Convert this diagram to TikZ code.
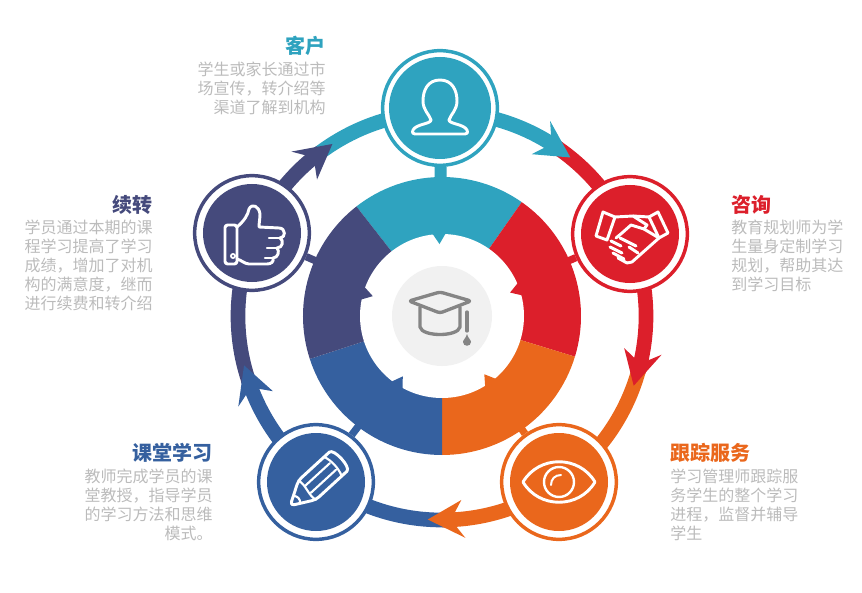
\documentclass[tikz,border=0pt]{standalone}
\usepackage{fontspec}
\setmainfont{Noto Sans CJK SC}
\definecolor{clientcol}{HTML}{2FA3BF}
\definecolor{consultcol}{HTML}{DC1F2B}
\definecolor{trackcol}{HTML}{EA671C}
\definecolor{lessoncol}{HTML}{35609F}
\definecolor{renewcol}{HTML}{454A7C}
\definecolor{bodycol}{HTML}{BBBBBB}
\definecolor{capcol}{HTML}{858585}
\definecolor{capback}{HTML}{F1F1F1}
\def\ringrad{204}
\def\hubrad{139}
\def\corerad{82}
\newcommand\ringhead[2]{%
  \fill[#1] (#2:\ringrad) -- (#2+10:\ringrad+19) -- (#2+6.5:\ringrad)%
    -- (#2+10:\ringrad-19) -- cycle;%
}
\tikzset{
  badge/.style={circle,draw=#1,line width=2.6pt,fill=white,minimum size=86pt,inner sep=0pt},
  icon/.style={draw=white,line width=2.2pt,line join=round,line cap=round},
  capicon/.style={draw=capcol,line width=2.5pt,line join=round,line cap=round},
  steptitle/.style={text=#1,font=\fontsize{15}{18}\selectfont\bfseries,inner sep=0pt},
  stepbody/.style={text=bodycol,font=\fontsize{12}{14.25}\selectfont,inner sep=0pt},
}

\begin{document}
\begin{tikzpicture}[x=.75pt,y=.75pt]%
  \useasboundingbox (-442,-276) rectangle (420,316);%
  \node[circle,minimum size=208.5pt,inner sep=0pt,outer sep=0pt] (hub) at (0,0) {};%
  % Outer ring, one colour from tip to tip
  \foreach \col/\from/\to in {%
      clientcol/122.5/51,%
      consultcol/51/-20,%
      trackcol/-20/-94,%
      lessoncol/-94/-166,%
      renewcol/-166/-237.5%
    }{%
      \draw[\col,line width=11pt] (\from+6:\ringrad) arc (\from+6:\to+4:\ringrad);%
    };%
  \foreach \col/\to in {clientcol/51,consultcol/-20,trackcol/-94,lessoncol/-166,renewcol/122.5}{%
    \ringhead{\col}{\to}%
  };%
  % Badges
  \foreach \name/\posx/\posy/\col in {%
      client/-2/208/clientcol,%
      consult/188/82/consultcol,%
      track/117/-166/trackcol,%
      lesson/-126/-166/lessoncol,%
      renew/-190/83/renewcol%
    }{%
      \node[badge=\col] (\name) at (\posx,\posy) {};%
    };%
  % Stems from badge to hub
  \foreach \name/\col/\wid in {%
      client/clientcol/9pt,%
      consult/consultcol/5.5pt,%
      track/trackcol/5.5pt,%
      lesson/lessoncol/5.5pt,%
      renew/renewcol/5.5pt%
    }{%
      \draw[\col,line width=\wid,shorten >=-3pt] (\name) -- (hub);%
    };%
  % Hub sectors
  \foreach \col/\from/\to in {%
      clientcol/128/55,%
      consultcol/55/-17,%
      trackcol/-17/-90,%
      lessoncol/-90/-162,%
      renewcol/-162/-232%
    }{%
      \fill[\col] (0,0) -- (\from:\hubrad) arc (\from:\to:\hubrad) -- cycle;%
    };%
  \fill[white] (0,0) circle (\corerad);%
  \foreach \col/\ang in {clientcol/92,consultcol/19,trackcol/-54,lessoncol/237,renewcol/164}{%
    \fill[\col] (\ang-5:\corerad+2) -- (\ang:\corerad-10) -- (\ang+5:\corerad+2) -- cycle;%
  };%
  \fill[capback] (0,0) circle (50);%
  % Graduation cap
  \draw[capicon,rounded corners=2pt] (-33,15) -- (-2,24) -- (29,15) -- (-2,3) -- cycle;%
  \draw[capicon] (-22,9) -- (-22,-11) .. controls (-20,-21) and (16,-21) .. (18,-11) -- (18,9);%
  \draw[capicon] (25,4) -- (25,-15);%
  \fill[capcol] (25,-18) .. controls (24,-22) and (21,-24) .. (21,-26)%
    .. controls (21,-31) and (29,-31) .. (29,-26) .. controls (29,-24) and (26,-22) .. (25,-18) -- cycle;%
  \begin{scope}[shift={(client)}]%
    \fill[clientcol] (0,0) circle (51);%
    \draw[icon] (0,28) .. controls (-12,28) and (-17,18) .. (-17,7)%
      .. controls (-17,-2) and (-11,-6) .. (-9,-12) .. controls (-9,-16) and (-24,-16) .. (-27,-22)%
      .. controls (-28,-25) and (-27,-26) .. (-25,-26) -- (25,-26)%
      .. controls (27,-26) and (28,-25) .. (27,-22) .. controls (24,-16) and (9,-16) .. (9,-12)%
      .. controls (11,-6) and (17,-2) .. (17,7) .. controls (17,18) and (12,28) .. (0,28) -- cycle;%
  \end{scope}%
  \begin{scope}[shift={(consult)}]%
    \fill[consultcol] (0,0) circle (49);%
    \draw[icon] (-27,22) -- (-15,17) -- (-23,-6) -- (-34,-2) -- cycle;%
    \draw[icon] (19,17) -- (28,22) -- (38,1) -- (29,-4) -- cycle;%
    \draw[icon] (-15,17) -- (3,18) -- (17,9) -- (14,5) -- (1,9) -- (-8,1) -- (-14,-4);%
    \draw[icon] (3,18) -- (19,17);%
    \draw[icon] (14,5) -- (29,-4);%
    \draw[icon] (29,-4) -- (2,-28) -- (-3,-29);%
    \draw[icon] (-19,-7) -- (-9,-12);%
    \draw[icon] (-20,-13) -- (-8,-19);%
    \draw[icon] (-17,-19) -- (-6,-25);%
    \draw[icon] (-12,-24) -- (-3,-29);%
    \draw[icon] (-10,-4) -- (6,-12);%
    \draw[icon] (-1,-13) -- (8,-19);%
  \end{scope}%
  \begin{scope}[shift={(track)}]%
    \fill[trackcol] (0,0) circle (49);%
    \draw[icon] (-36,0) .. controls (-20,27) and (20,27) .. (36,0)%
      .. controls (20,-27) and (-20,-27) .. (-36,0) -- cycle;%
    \draw[icon,line width=1.8pt] (0,0) circle (15);%
    \draw[icon,line width=1.5pt] (-8,-3) .. controls (-8,3) and (-4,7) .. (2,7);%
  \end{scope}%
  \begin{scope}[shift={(lesson)}]%
    \fill[lessoncol] (0,0) circle (49);%
    \begin{scope}[rotate=42.5]%
      \draw[icon,rounded corners=3pt] (-35,0) -- (-12,13) -- (26,13)%
        .. controls (36,13) and (36,-13) .. (26,-13) -- (-12,-13) -- cycle;%
      \draw[icon,line width=1.6pt] (-12,13) .. controls (-9,5) and (-15,-5) .. (-12,-13);%
      \draw[icon,line width=1.6pt] (-26,5) .. controls (-23,2) and (-23,-2) .. (-26,-5);%
      \draw[icon,line width=1.6pt] (23,13) .. controls (26,5) and (26,-5) .. (23,-13);%
      \draw[icon,line width=1.6pt] (-11,4.5) -- (23,4.5);%
      \draw[icon,line width=1.6pt] (-11,-4.5) -- (23,-4.5);%
    \end{scope}%
  \end{scope}%
  \begin{scope}[shift={(renew)}]%
    \fill[renewcol] (0,0) circle (49);%
    \draw[icon,rounded corners=2pt] (-15,8) -- (-27,8) -- (-27,-31) -- (-15,-31) -- cycle;%
    \fill[white] (-19,-23) circle (3);%
    \fill[renewcol] (-19,-23) circle (1.2);%
    \draw[icon] (-15,6) .. controls (-8,12) and (-4,18) .. (-3,24)%
      .. controls (0,30) and (7,27) .. (8,19) .. controls (8,14) and (7,10) .. (7,6) -- (27,5)%
      .. controls (34,5) and (34,-5) .. (28,-5) .. controls (32,-7) and (31,-15) .. (25,-15)%
      .. controls (28,-18) and (26,-25) .. (21,-25) .. controls (22,-29) and (19,-31) .. (15,-31)%
      -- (-3,-31) .. controls (-7,-31) and (-11,-27) .. (-15,-26);%
    \draw[icon,line width=1.8pt] (17,-5) -- (28,-5);%
    \draw[icon,line width=1.8pt] (15,-15) -- (25,-15);%
    \draw[icon,line width=1.8pt] (13,-25) -- (21,-25);%
  \end{scope}%
  % Labels
  \node[steptitle=clientcol,anchor=east] (clienttitle) at (-116,270) {客户};%
  \node[stepbody,anchor=north east,align=right] (clientbody) at (-116,254)%
    {学生或家长通过市\\场宣传，转介绍等\\渠道了解到机构};%
  \node[steptitle=consultcol,anchor=west] (consulttitle) at (289,111) {咨询};%
  \node[stepbody,anchor=north west,align=left] (consultbody) at (289,96.5)%
    {教育规划师为学\\生量身定制学习\\规划，帮助其达\\到学习目标};%
  \node[steptitle=trackcol,anchor=west] (tracktitle) at (228,-137) {跟踪服务};%
  \node[stepbody,anchor=north west,align=left] (trackbody) at (228,-153)%
    {学习管理师跟踪服\\务学生的整个学习\\进程，监督并辅导\\学生};%
  \node[steptitle=lessoncol,anchor=east] (lessontitle) at (-229,-137) {课堂学习};%
  \node[stepbody,anchor=north east,align=right] (lessonbody) at (-229,-153)%
    {教师完成学员的课\\堂教授，指导学员\\的学习方法和思维\\模式。};%
  \node[steptitle=renewcol,anchor=east] (renewtitle) at (-289,111) {续转};%
  \node[stepbody,anchor=north east,align=right] (renewbody) at (-289,96.5)%
    {学员通过本期的课\\程学习提高了学习\\成绩，增加了对机\\构的满意度，继而\\进行续费和转介绍};%
\end{tikzpicture}
\end{document}
